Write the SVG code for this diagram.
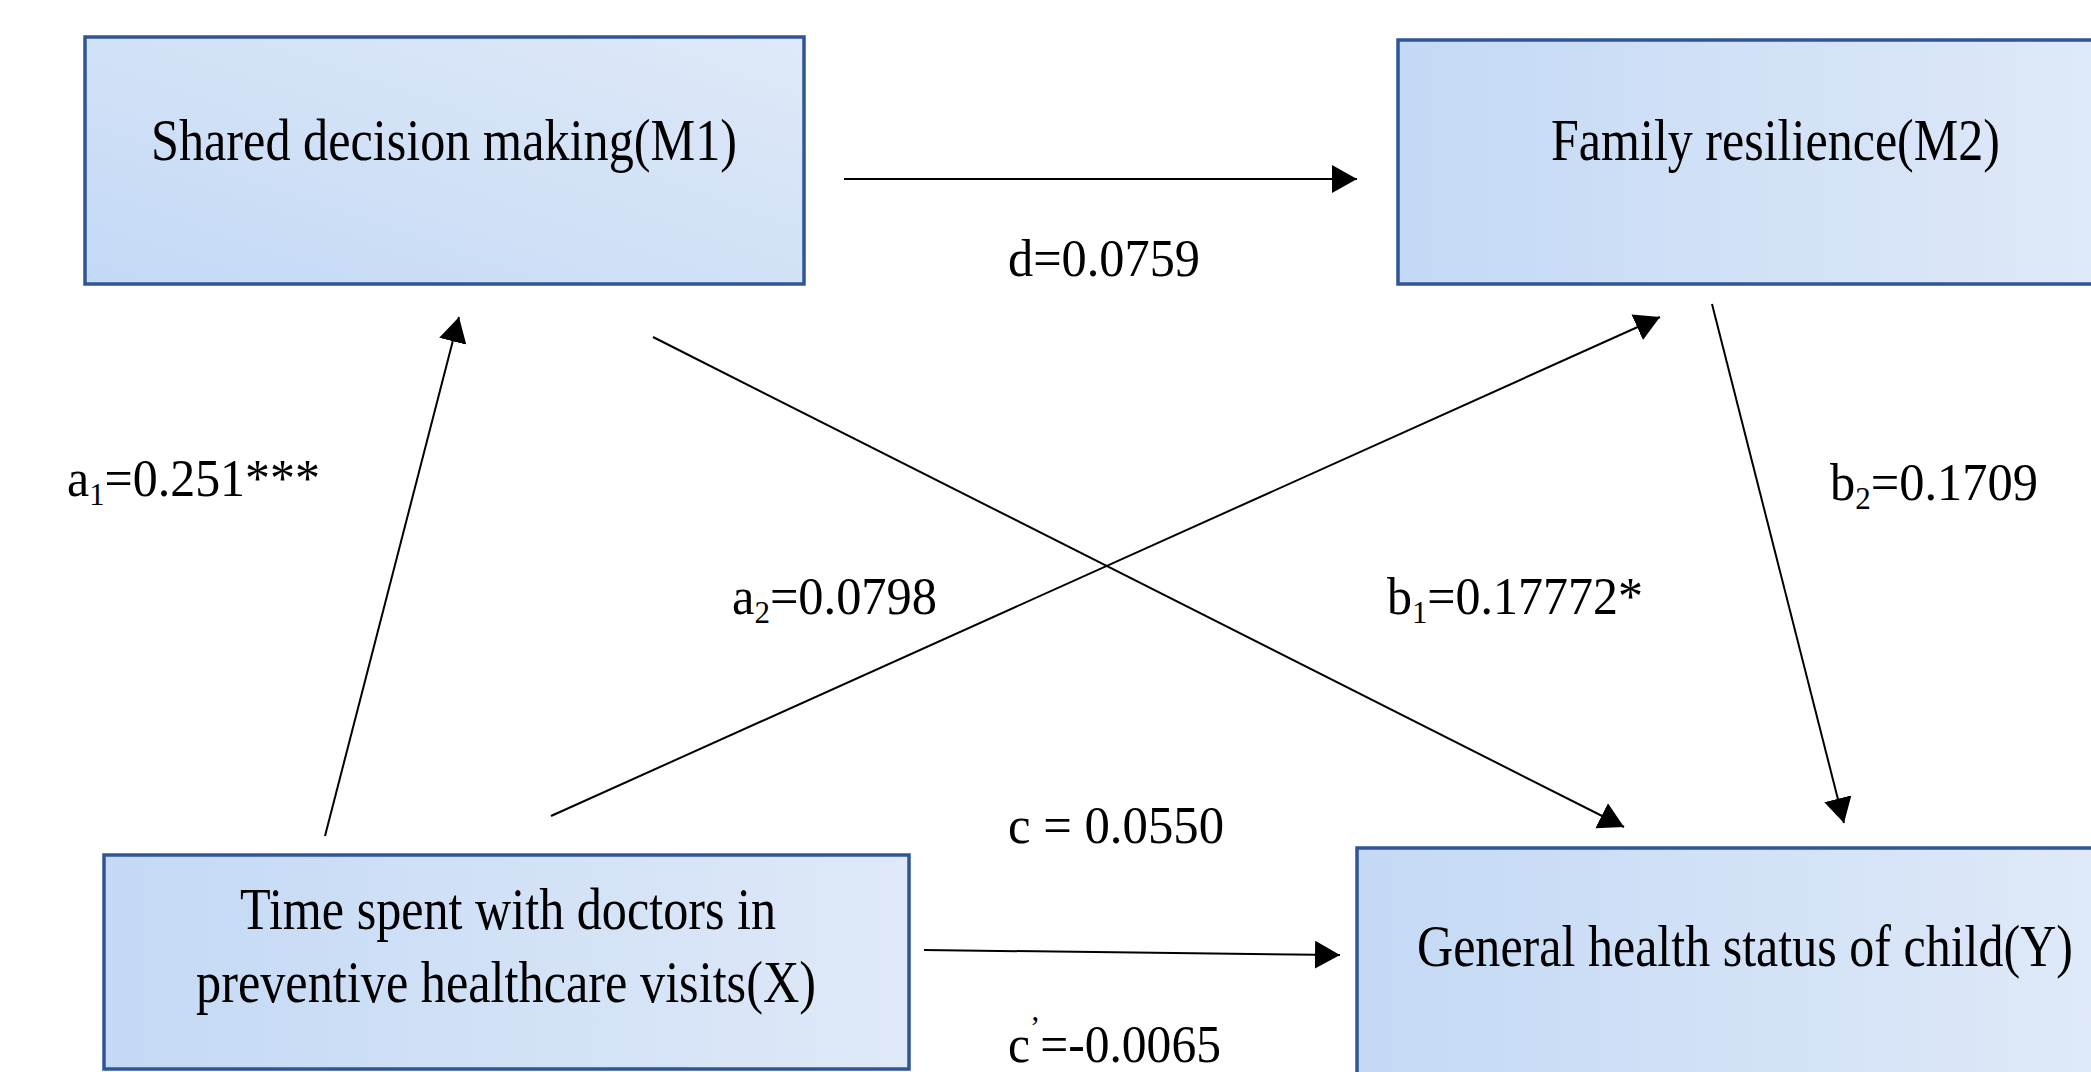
<svg xmlns="http://www.w3.org/2000/svg" width="2091" height="1072" viewBox="0 0 2091 1072">
<defs>
<linearGradient id="gH" x1="0" y1="0" x2="1" y2="0">
<stop offset="0" stop-color="#c4d9f5"/>
<stop offset="1" stop-color="#dfe9f8"/>
</linearGradient>
<linearGradient id="gD" x1="0" y1="1" x2="1" y2="0">
<stop offset="0" stop-color="#c4d9f5"/>
<stop offset="1" stop-color="#dfe9f8"/>
</linearGradient>
<marker id="ah" markerUnits="userSpaceOnUse" markerWidth="26" markerHeight="30" refX="25" refY="14" orient="auto">
<path d="M0,0 L25,14 L0,28 Z" fill="#000"/>
</marker>
<style>
.box{stroke:#2f5597;stroke-width:3.5}
.t{font-family:"Liberation Serif","Times New Roman",serif;fill:#000}
.bt{font-size:60px}
.lb{font-size:52px}
.sub{font-size:32px}
.ln{stroke:#000;stroke-width:2;fill:none;marker-end:url(#ah)}
</style>
</defs>
<rect width="2091" height="1072" fill="#fff"/>
<g id="connectors">
<line class="ln" x1="844" y1="179" x2="1357" y2="179"/>
<line class="ln" x1="325" y1="836" x2="459" y2="317"/>
<line class="ln" x1="551" y1="816" x2="1660" y2="317"/>
<line class="ln" x1="653" y1="337" x2="1624" y2="827"/>
<line class="ln" x1="1712" y1="304" x2="1844" y2="823"/>
<line class="ln" x1="924" y1="950" x2="1340" y2="955"/>
</g>
<g id="labels">
<text class="t lb" x="1008" y="276" textLength="192" lengthAdjust="spacingAndGlyphs">d=0.0759</text>
<text class="t lb" x="67" y="496" textLength="253" lengthAdjust="spacingAndGlyphs">a<tspan class="sub" dy="9">1</tspan><tspan dy="-9">=0.251***</tspan></text>
<text class="t lb" x="732" y="614" textLength="205" lengthAdjust="spacingAndGlyphs">a<tspan class="sub" dy="9">2</tspan><tspan dy="-9">=0.0798</tspan></text>
<text class="t lb" x="1387" y="614" textLength="256" lengthAdjust="spacingAndGlyphs">b<tspan class="sub" dy="9">1</tspan><tspan dy="-9">=0.17772*</tspan></text>
<text class="t lb" x="1830" y="500" textLength="208" lengthAdjust="spacingAndGlyphs">b<tspan class="sub" dy="9">2</tspan><tspan dy="-9">=0.1709</tspan></text>
<text class="t lb" x="1008" y="843" textLength="216" lengthAdjust="spacingAndGlyphs">c = 0.0550</text>
<text class="t lb" x="1008" y="1062" textLength="213" lengthAdjust="spacingAndGlyphs">c<tspan class="sub" dy="-24">’</tspan><tspan dy="24">=-0.0065</tspan></text>
</g>
<g id="M1">
<rect class="box" x="85" y="37" width="719" height="247" fill="url(#gD)"/>
<text class="t bt" x="151" y="160" textLength="586" lengthAdjust="spacingAndGlyphs">Shared decision making(M1)</text>
</g>
<g id="M2">
<rect class="box" x="1398" y="40" width="700" height="244" fill="url(#gH)"/>
<text class="t bt" x="1551" y="160" textLength="449" lengthAdjust="spacingAndGlyphs">Family resilience(M2)</text>
</g>
<g id="X">
<rect class="box" x="104" y="855" width="805" height="214" fill="url(#gH)"/>
<text class="t bt" x="240" y="929" textLength="536" lengthAdjust="spacingAndGlyphs">Time spent with doctors in</text>
<text class="t bt" x="196" y="1002" textLength="620" lengthAdjust="spacingAndGlyphs">preventive healthcare visits(X)</text>
</g>
<g id="Y">
<rect class="box" x="1357" y="848" width="740" height="240" fill="url(#gH)"/>
<text class="t bt" x="1417" y="966" textLength="656" lengthAdjust="spacingAndGlyphs">General health status of child(Y)</text>
</g>
</svg>
